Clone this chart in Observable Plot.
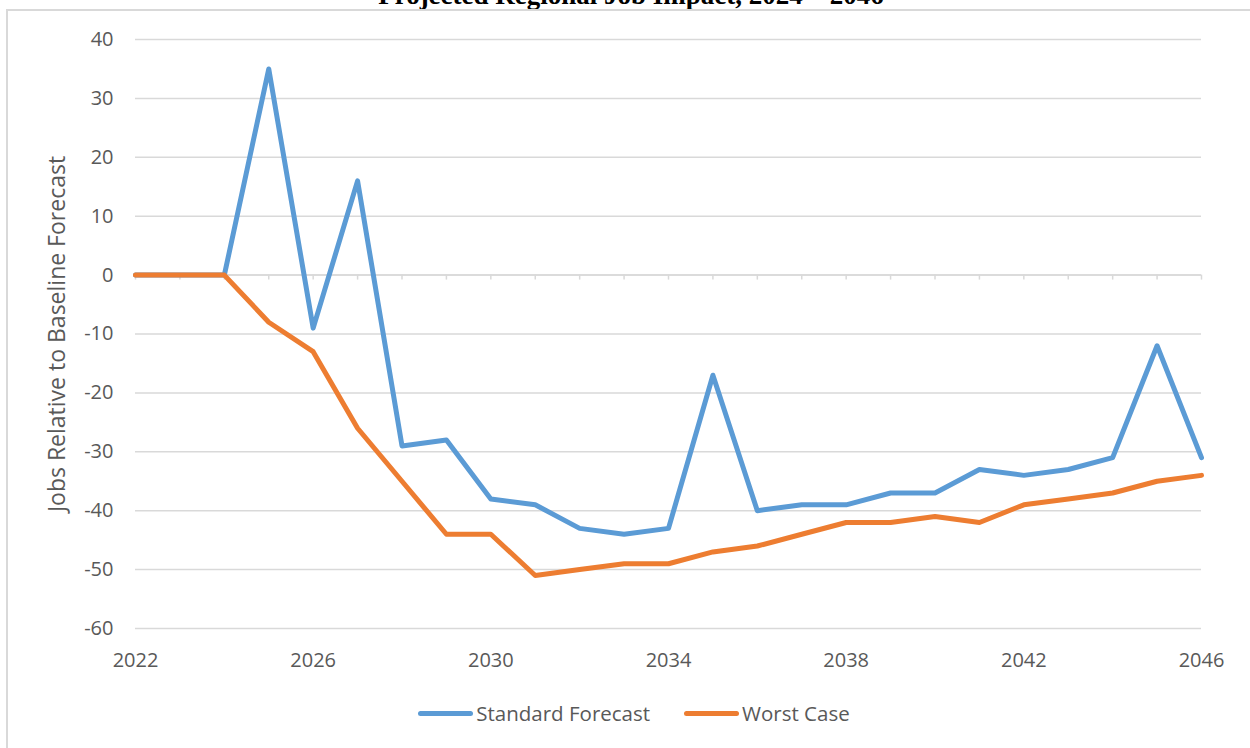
<!DOCTYPE html>
<html>
<head>
<meta charset="utf-8">
<script src="https://cdn.jsdelivr.net/npm/d3@7"></script>
<script src="https://cdn.jsdelivr.net/npm/@observablehq/plot@0.6"></script>
<style>
  html, body { margin: 0; padding: 0; background: #fff; overflow: hidden; }
  #wrap { position: relative; width: 1250px; height: 748px; }
  #title { position: absolute; top: -20px; left: 0; width: 1262px; text-align: center;
    font-family: "Liberation Serif", "Times New Roman", serif; font-weight: bold; font-size: 27px; color: #000; }
  #frame { position: absolute; top: 9px; left: 6px; width: 1250px; height: 745px;
    border-top: 2px solid #d9d9d9; border-left: 2px solid #d9d9d9; }
  #chart { position: absolute; top: 0; left: 0; }
  #chart svg text { font-size: 20px; }
  #legend { position: absolute; top: 699px; left: 0; width: 1268px; display: flex; justify-content: center; gap: 34px;
    font-family: "Open Sans", Lato, sans-serif; font-size: 20.5px; color: #595959; }
  .item { display: flex; align-items: center; }
  .sw { display: inline-block; width: 55px; height: 5px; border-radius: 3px; margin-right: 3px; }
</style>
</head>
<body>
<div id="wrap">
  <div id="title">Projected Regional Job Impact, 2024 – 2046</div>
  <div id="frame"></div>
  <div id="chart"></div>
  <div id="legend"></div>
</div>
<script>
const years = [2022,2023,2024,2025,2026,2027,2028,2029,2030,2031,2032,2033,2034,2035,2036,2037,2038,2039,2040,2041,2042,2043,2044,2045,2046];
const standardForecast = [0,0,0,35,-9,16,-29,-28,-38,-39,-43,-44,-43,-17,-40,-39,-39,-37,-37,-33,-34,-33,-31,-12,-31];
const worstCase = [0,0,0,-8,-13,-26,-35,-44,-44,-51,-50,-49,-49,-47,-46,-44,-42,-42,-41,-42,-39,-38,-37,-35,-34];
const seriesNames = ["Standard Forecast", "Worst Case"];
const seriesColors = ["#5B9BD5", "#ED7D31"];
const xTicks = [2022,2026,2030,2034,2038,2042,2046];
const yTicks = [-60,-50,-40,-30,-20,-10,0,10,20,30,40];
const yLabel = "Jobs Relative to Baseline Forecast";

const rows = [];
years.forEach((yr, i) => {
  rows.push({year: yr, value: standardForecast[i], series: seriesNames[0]});
  rows.push({year: yr, value: worstCase[i], series: seriesNames[1]});
});

const font = "'Open Sans', Lato, sans-serif";
const plot = Plot.plot({
  width: 1250,
  height: 690,
  marginLeft: 135,
  marginRight: 49,
  marginTop: 39,
  marginBottom: 62,
  style: {fontFamily: font, fontSize: "20px", color: "#595959", background: "transparent"},
  x: {domain: [2022, 2046]},
  y: {domain: [-60, 40]},
  color: {domain: seriesNames, range: seriesColors},
  marks: [
    Plot.gridY(yTicks, {stroke: "#d9d9d9", strokeOpacity: 1, strokeWidth: 1.5}),
    Plot.ruleY([0], {stroke: "#d9d9d9", strokeWidth: 1.5}),
    Plot.ruleX(years, {y1: 0, y2: -0.85, stroke: "#d9d9d9", strokeWidth: 1.5}),
    Plot.axisX(xTicks, {tickSize: 0, tickPadding: 24, tickFormat: d => String(d), fill: "#595959", label: null}),
    Plot.axisY(yTicks, {tickSize: 0, tickPadding: 22, tickFormat: d => String(d), fill: "#595959",
      label: yLabel, labelAnchor: "center", labelArrow: "none", labelOffset: 87}),
    Plot.line(rows, {x: "year", y: "value", z: "series", stroke: "series", strokeWidth: 5,
      strokeLinejoin: "round", strokeLinecap: "round"})
  ]
});
plot.querySelectorAll("text").forEach(t => {
  if (t.textContent === yLabel) t.style.fontSize = "23px";
});
document.getElementById("chart").appendChild(plot);

const legend = document.getElementById("legend");
seriesNames.forEach((name, i) => {
  const it = document.createElement("div");
  it.className = "item";
  const sw = document.createElement("span");
  sw.className = "sw";
  sw.style.background = seriesColors[i];
  const tx = document.createElement("span");
  tx.textContent = name;
  it.appendChild(sw); it.appendChild(tx);
  legend.appendChild(it);
});
</script>
</body>
</html>
